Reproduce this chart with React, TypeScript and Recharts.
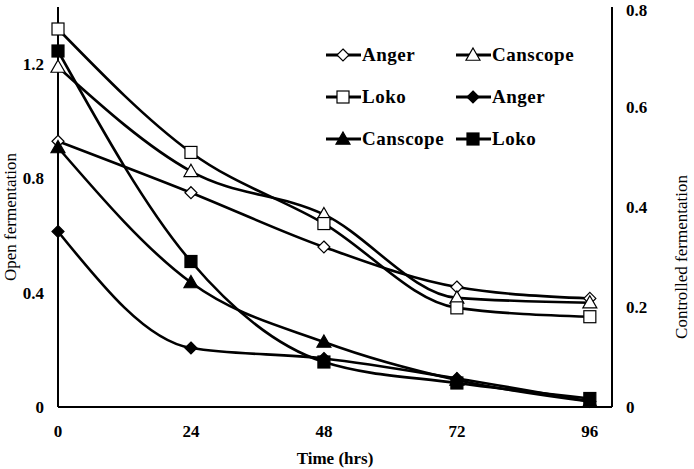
import { LineChart, Line, XAxis, YAxis } from 'recharts';

const times = [0, 24, 48, 72, 96];
const xTicks = [0, 24, 48, 72, 96];
const leftTicks = [0, 0.4, 0.8, 1.2];
const rightTicks = [0, 0.2, 0.4, 0.6, 0.8];

// open fermentation (left axis)
const openAnger = [0.93, 0.75, 0.56, 0.42, 0.38];
const openCanscope = [1.19, 0.825, 0.674, 0.382, 0.365];
const openLoko = [1.323, 0.891, 0.642, 0.347, 0.316];
// controlled fermentation (right axis)
const ctrlAnger = [0.351, 0.118, 0.097, 0.057, 0.011];
const ctrlCanscope = [0.519, 0.249, 0.13, 0.054, 0.011];
const ctrlLoko = [0.712, 0.291, 0.09, 0.048, 0.017];

const data = times.map((t, i) => ({
  time: t,
  openAnger: openAnger[i],
  openCanscope: openCanscope[i],
  openLoko: openLoko[i],
  ctrlAnger: ctrlAnger[i],
  ctrlCanscope: ctrlCanscope[i],
  ctrlLoko: ctrlLoko[i],
}));

const series = [
  { key: 'openAnger', name: 'Anger', shape: 'diamond', filled: false, axis: 'left' },
  { key: 'openCanscope', name: 'Canscope', shape: 'triangle', filled: false, axis: 'left' },
  { key: 'openLoko', name: 'Loko', shape: 'square', filled: false, axis: 'left' },
  { key: 'ctrlAnger', name: 'Anger', shape: 'diamond', filled: true, axis: 'right' },
  { key: 'ctrlCanscope', name: 'Canscope', shape: 'triangle', filled: true, axis: 'right' },
  { key: 'ctrlLoko', name: 'Loko', shape: 'square', filled: true, axis: 'right' },
];

const FONT = "'Liberation Serif', 'Times New Roman', Times, serif";

function Marker({ cx, cy, shape, filled }: { cx: number; cy: number; shape: string; filled: boolean }) {
  const fill = filled ? '#000' : '#fff';
  if (shape === 'diamond') {
    const r = 6;
    return <polygon points={`${cx},${cy - r} ${cx + r},${cy} ${cx},${cy + r} ${cx - r},${cy}`} fill={fill} stroke="#000" strokeWidth={1.2} />;
  }
  if (shape === 'square') {
    const r = 6;
    return <rect x={cx - r} y={cy - r} width={r * 2} height={r * 2} fill={fill} stroke="#000" strokeWidth={1.2} />;
  }
  const r = 7;
  return <polygon points={`${cx},${cy - r} ${cx + r},${cy + r * 0.75} ${cx - r},${cy + r * 0.75}`} fill={fill} stroke="#000" strokeWidth={1.2} />;
}

const fmt = (v: number) => (v === 0 ? '0' : v.toFixed(1));

const tickStyle = { fill: '#000', fontFamily: FONT, fontSize: 17, fontWeight: 700 };

function LegendBox() {
  return (
    <div
      style={{
        position: 'absolute',
        left: 326,
        top: 44,
        display: 'grid',
        gridTemplateColumns: '130px 130px',
        rowGap: 20,
        fontFamily: FONT,
        fontWeight: 700,
        fontSize: 19,
      }}
    >
      {series.map((s) => (
        <div key={s.key} style={{ display: 'flex', alignItems: 'center', height: 22 }}>
          <svg width={35} height={18} style={{ marginRight: 1 }}>
            <line x1={0} y1={9} x2={35} y2={9} stroke="#000" strokeWidth={3} />
            <Marker cx={17} cy={9} shape={s.shape} filled={s.filled} />
          </svg>
          <span style={{ letterSpacing: 0.5 }}>{s.name}</span>
        </div>
      ))}
    </div>
  );
}

export default function App() {
  return (
    <div style={{ position: 'absolute', left: 0, top: 0, width: 694, height: 469, background: '#fff' }}>
      <LineChart width={694} height={469} data={data} margin={{ top: 7, right: 0, bottom: 0, left: 0 }}>
        <XAxis
          dataKey="time"
          type="number"
          domain={[0, 100]}
          ticks={xTicks}
          tickSize={0}
          tickMargin={18}
          height={62}
          axisLine={{ stroke: '#000', strokeWidth: 2 }}
          tick={tickStyle}
          label={({ viewBox }: any) => (
            <text x={viewBox.x + viewBox.width / 2} y={viewBox.y + 57} textAnchor="middle" style={{ fontFamily: FONT, fontSize: 17, fontWeight: 700 }}>
              Time (hrs)
            </text>
          )}
        />
        <XAxis xAxisId="top" dataKey="time" type="number" domain={[0, 100]} orientation="top" height={0} tick={false} tickLine={false} axisLine={{ stroke: '#000', strokeWidth: 2 }} />
        <YAxis
          yAxisId="left"
          domain={[0, 1.4]}
          ticks={leftTicks}
          tickFormatter={fmt}
          width={58}
          tickSize={0}
          tickMargin={14}
          axisLine={{ stroke: '#000', strokeWidth: 2 }}
          tick={tickStyle}
          label={({ viewBox }: any) => (
            <text transform={`translate(12, ${viewBox.y + viewBox.height / 2 + 10}) rotate(-90)`} textAnchor="middle" dominantBaseline="middle" style={{ fontFamily: FONT, fontSize: 17 }}>
              Open fermentation
            </text>
          )}
        />
        <YAxis
          yAxisId="right"
          orientation="right"
          domain={[0, 0.8]}
          ticks={rightTicks}
          tickFormatter={fmt}
          width={82}
          tickSize={0}
          tickMargin={14}
          axisLine={{ stroke: '#000', strokeWidth: 2 }}
          tick={tickStyle}
          label={({ viewBox }: any) => (
            <text transform={`translate(683, ${viewBox.y + viewBox.height / 2 + 50}) rotate(-90)`} textAnchor="middle" dominantBaseline="middle" style={{ fontFamily: FONT, fontSize: 17 }}>
              Controlled fermentation
            </text>
          )}
        />
        {series.map((s) => (
          <Line
            key={s.key}
            yAxisId={s.axis}
            dataKey={s.key}
            name={s.name}
            type="monotone"
            stroke="#000"
            strokeWidth={2.6}
            dot={(p: any) => <Marker key={`${s.key}-${p.index}`} cx={p.cx} cy={p.cy} shape={s.shape} filled={s.filled} />}
            activeDot={false}
            isAnimationActive={false}
          />
        ))}
      </LineChart>
      <LegendBox />
    </div>
  );
}
